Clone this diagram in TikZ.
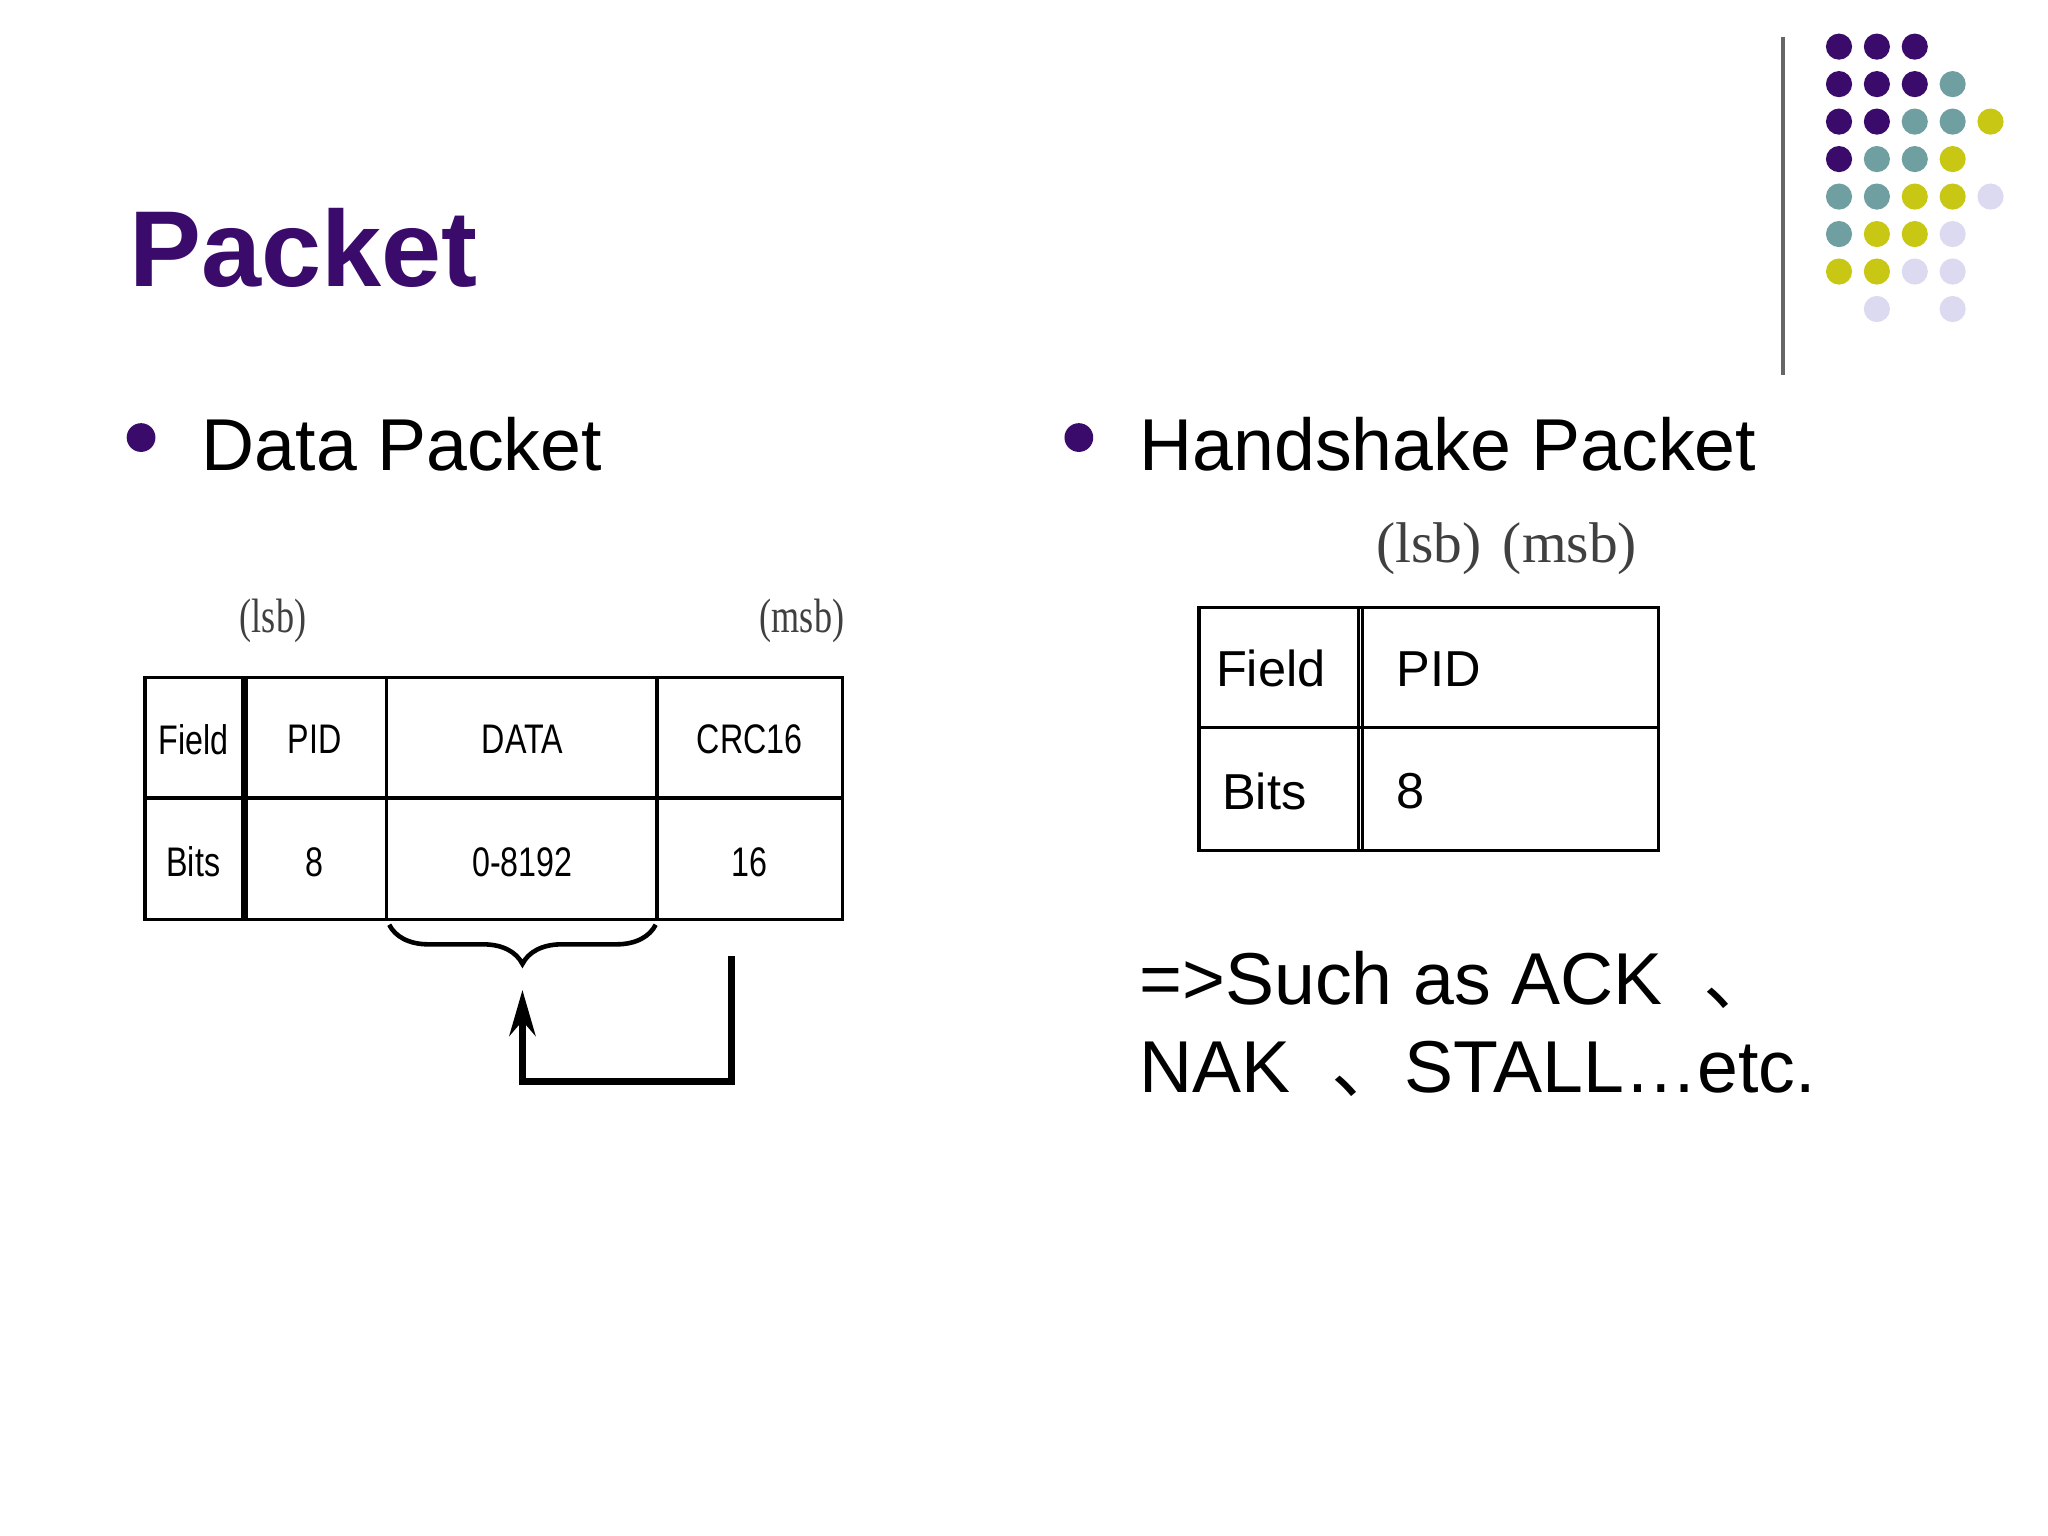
\documentclass[tikz,border=0pt]{standalone}
\usepackage{fontspec}
\setmainfont{Liberation Sans}
\newfontfamily\cjk{Noto Sans CJK SC}
\newfontfamily\serifx{Liberation Serif}
\usetikzlibrary{decorations.pathreplacing,arrows.meta}
\definecolor{pp}{HTML}{3B0B6B}
\definecolor{tl}{HTML}{6F9FA0}
\definecolor{yl}{HTML}{C8C814}
\definecolor{lv}{HTML}{DCDAF0}
\begin{document}
\begin{tikzpicture}[x=0.01cm,y=-0.01cm,
  cell/.style={draw,line width=0.7pt},
  lt/.style={font=\fontsize{9}{11}\selectfont, xscale=0.78, transform shape},
  rt/.style={font=\fontsize{11}{13}\selectfont},
  bul/.style={font=\fontsize{16}{19}\selectfont, anchor=west},
  ser/.style={font=\serifx\fontsize{10.5}{12}\selectfont,text=black!75},
  dot/.style={circle, inner sep=0pt, minimum size=0.2cm}]
\useasboundingbox[fill=white] (0,0) rectangle (1568,1176);
\node[anchor=west,text=pp,font=\fontsize{23.5}{28}\selectfont\bfseries] (title) at (87,190) {Packet};
\draw[gray!80!black,line width=0.8pt] (1365,28) -- (1365,287);
% dots
\foreach \c/\r/\col in {1/1/pp,2/1/pp,3/1/pp,
 1/2/pp,2/2/pp,3/2/pp,4/2/tl,
 1/3/pp,2/3/pp,3/3/tl,4/3/tl,5/3/yl,
 1/4/pp,2/4/tl,3/4/tl,4/4/yl,
 1/5/tl,2/5/tl,3/5/yl,4/5/yl,5/5/lv,
 1/6/tl,2/6/yl,3/6/yl,4/6/lv,
 1/7/yl,2/7/yl,3/7/lv,4/7/lv,
 2/8/lv,4/8/lv}
 \node[dot,fill=\col] (d\c\r) at ({1379+29*\c},{7+28.7*\r}) {};
% bullets
\node[circle,fill=pp,inner sep=0pt,minimum size=0.22cm] (b1) at (108,335) {};
\node[bul] (t1) at (142,340) {Data Packet};
\node[circle,fill=pp,inner sep=0pt,minimum size=0.22cm] (b2) at (826,335) {};
\node[bul] (t2) at (860,340) {Handshake Packet};
% left table
\draw[cell] (111,519) rectangle (645,704);
\draw[cell] (111,611) -- (645,611);
\draw[cell] (186,519) -- (186,704);
\draw[cell] (189,519) -- (189,704);
\draw[cell] (296,519) -- (296,704);
\draw[cell] (503,519) -- (503,704);
\node[lt] (f1) at (148,566) {Field};
\node[lt] (f2) at (241,566) {PID};
\node[lt] (f3) at (400,566) {DATA};
\node[lt] (f4) at (574,566) {CRC16};
\node[lt] (g1) at (148,660) {Bits};
\node[lt] (g2) at (241,660) {8};
\node[lt] (g3) at (400,660) {0-8192};
\node[lt] (g4) at (574,660) {16};
\node[ser,xscale=0.75,transform shape] (lsb1) at (209,475) {(lsb)};
\node[ser,xscale=0.75,transform shape] (msb1) at (614,475) {(msb)};
% brace and arrow
\coordinate (bl) at (298,708);
\coordinate (br) at (502,708);
\draw[decorate,decoration={brace,mirror,amplitude=0.3cm},line width=1pt] (bl) -- (br);
\coordinate (a0) at (560,732);
\coordinate (a1) at (560,828);
\coordinate (a2) at (400,828);
\coordinate (tip) at (400,758);
\draw[line width=1.5pt,-{Stealth[length=0.35cm,width=0.2cm]}] (a0) -- (a1) -- (a2) -- (tip);
% right table
\draw[cell] (918,465) rectangle (1270,651);
\draw[cell] (918,557) -- (1270,557);
\draw[cell] (1040,465) -- (1040,651);
\draw[cell] (1043,465) -- (1043,651);
\node[rt] (h1) at (973,512) {Field};
\node[rt,anchor=west] (h2) at (1057,512) {PID};
\node[rt] (h3) at (968,606) {Bits};
\node[rt,anchor=west] (h4) at (1057,606) {8};
\node[ser,font=\serifx\fontsize{12.5}{14}\selectfont] (lsb2) at (1094,420) {(lsb)};
\node[ser,font=\serifx\fontsize{12.5}{14}\selectfont] (msb2) at (1202,420) {(msb)};
% text
\node[bul] (s1) at (860,750) {=>Such as ACK \ {\cjk 、}};
\node[bul] (s2) at (860,818) {NAK \ {\cjk 、}STALL…etc.};
\end{tikzpicture}
\end{document}
